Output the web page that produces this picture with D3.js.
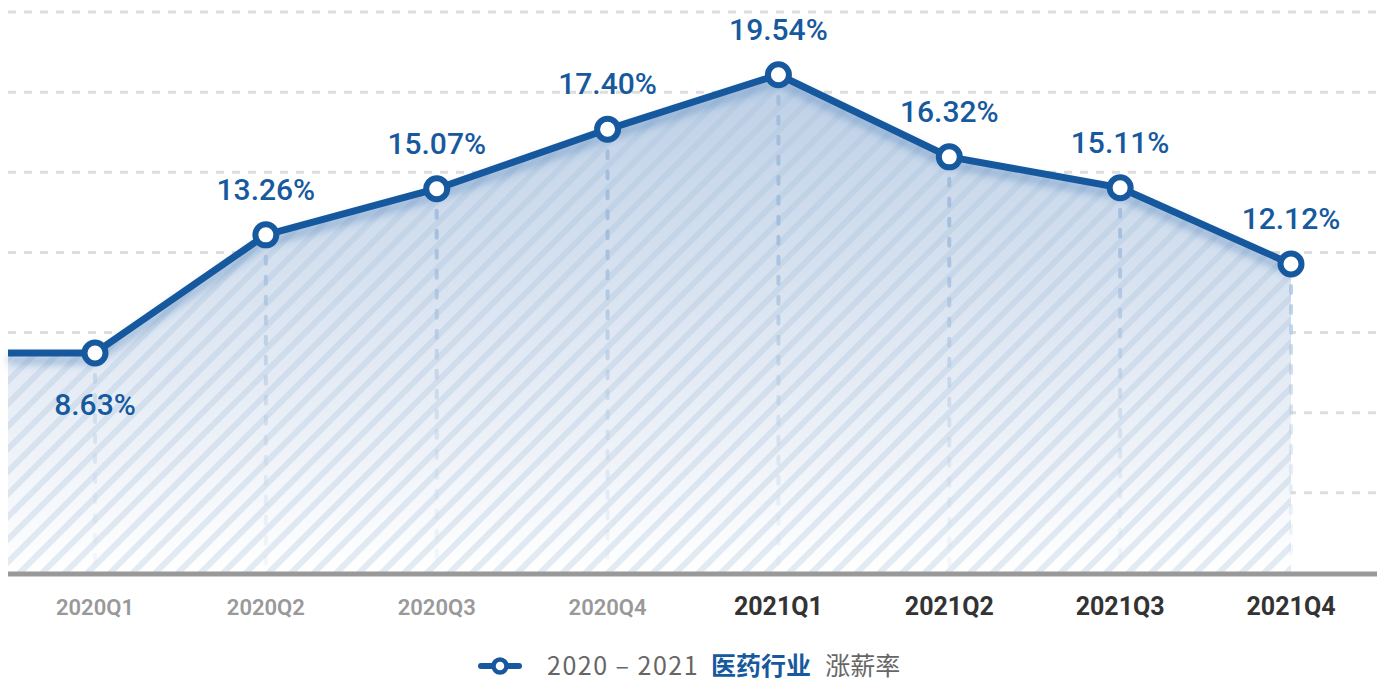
<!DOCTYPE html>
<html>
<head>
<meta charset="utf-8">
<script src="https://cdn.jsdelivr.net/npm/d3@7"></script>
<style>
  html, body { margin: 0; padding: 0; background: #fff; }
  svg { display: block; }
</style>
</head>
<body>
<div id="chart"></div>
<script>
// ── data ──────────────────────────────────────────────
const quarters = ['2020Q1', '2020Q2', '2020Q3', '2020Q4', '2021Q1', '2021Q2', '2021Q3', '2021Q4'];
const raise = [8.63, 13.26, 15.07, 17.40, 19.54, 16.32, 15.11, 12.12];
const yMax = 22;
const gridCount = 7;

const BLUE = '#17599e';
const width = 1377, height = 681;
const plotLeft = 8, baseY = 573;

const svg = d3.select('#chart').append('svg')
  .attr('width', width).attr('height', height)
  .attr('viewBox', `0 0 ${width} ${height}`);

const x = d3.scalePoint().domain(quarters).range([95, 1291]);
const y = d3.scaleLinear().domain([0, yMax]).range([baseY, 12]);

const pts = quarters.map((q, i) => ({ q, v: raise[i], x: x(q), y: y(raise[i]) }));
// flat lead-in from the left edge of the plot
const linePts = [{ x: plotLeft, y: y(raise[0]) }, ...pts];

const defs = svg.append('defs');

const grad = defs.append('linearGradient').attr('id', 'areaGrad')
  .attr('gradientUnits', 'userSpaceOnUse')
  .attr('x1', 0).attr('x2', 0).attr('y1', y(yMax * 0.9)).attr('y2', baseY);
grad.append('stop').attr('offset', '0%').attr('stop-color', '#bccfe6');
grad.append('stop').attr('offset', '55%').attr('stop-color', '#e0e8f3');
grad.append('stop').attr('offset', '100%').attr('stop-color', '#ffffff');

const pat = defs.append('pattern').attr('id', 'stripes')
  .attr('patternUnits', 'userSpaceOnUse')
  .attr('width', 16).attr('height', 16)
  .attr('patternTransform', 'rotate(45)');
pat.append('rect').attr('x', 0).attr('y', 0).attr('width', 6).attr('height', 16)
  .attr('fill', '#a9c1dc').attr('opacity', 0.32);

const shadow = defs.append('filter').attr('id', 'lineShadow')
  .attr('x', '-5%').attr('y', '-20%').attr('width', '110%').attr('height', '160%');
shadow.append('feDropShadow').attr('dx', 0).attr('dy', 7).attr('stdDeviation', 4)
  .attr('flood-color', '#3a73b3').attr('flood-opacity', 0.45);

// ── gridlines ─────────────────────────────────────────
const gridVals = d3.range(1, gridCount + 1).map(i => yMax * i / gridCount);
svg.append('g').selectAll('line').data(gridVals).enter().append('line')
  .attr('x1', plotLeft).attr('x2', width)
  .attr('y1', d => y(d)).attr('y2', d => y(d))
  .attr('stroke', '#dddddd').attr('stroke-width', 3)
  .attr('stroke-dasharray', '8,8');

// ── area ──────────────────────────────────────────────
const area = d3.area().x(d => d.x).y0(baseY).y1(d => d.y);
svg.append('path').datum(linePts).attr('d', area).attr('fill', 'url(#areaGrad)');
svg.append('path').datum(linePts).attr('d', area).attr('fill', 'url(#stripes)');

// drop lines
const dropGrad = defs.append('linearGradient').attr('id', 'dropGrad')
  .attr('gradientUnits', 'userSpaceOnUse')
  .attr('x1', 0).attr('x2', 0).attr('y1', y(yMax * 0.6)).attr('y2', baseY);
dropGrad.append('stop').attr('offset', '0%').attr('stop-color', '#9ebbdc').attr('stop-opacity', 0.85);
dropGrad.append('stop').attr('offset', '100%').attr('stop-color', '#c8d8ea').attr('stop-opacity', 0.15);

svg.append('g').selectAll('line').data(pts).enter().append('line')
  .attr('x1', d => d.x).attr('x2', d => d.x + 0.01)
  .attr('y1', d => d.y + 22).attr('y2', baseY - 8)
  .attr('stroke', 'url(#dropGrad)').attr('stroke-width', 4)
  .attr('stroke-linecap', 'round').attr('stroke-dasharray', '7,13');

// baseline
svg.append('line')
  .attr('x1', plotLeft).attr('x2', width).attr('y1', baseY + 1).attr('y2', baseY + 1)
  .attr('stroke', '#999999').attr('stroke-width', 5);

// ── line + markers ────────────────────────────────────
const line = d3.line().x(d => d.x).y(d => d.y);
svg.append('path').datum(linePts).attr('d', line)
  .attr('fill', 'none').attr('stroke', BLUE).attr('stroke-width', 7)
  .attr('stroke-linejoin', 'round').attr('filter', 'url(#lineShadow)');

svg.append('g').selectAll('circle').data(pts).enter().append('circle')
  .attr('cx', d => d.x).attr('cy', d => d.y).attr('r', 10.5)
  .attr('fill', '#fff').attr('stroke', BLUE).attr('stroke-width', 6);

// value labels
svg.append('g').selectAll('text').data(pts).enter().append('text')
  .attr('x', d => d.x)
  .attr('y', (d, i) => i === 0 ? d.y + 62 : d.y - 35)
  .attr('text-anchor', 'middle')
  .attr('font-family', 'Roboto, sans-serif').attr('font-weight', 500)
  .attr('font-size', 30).attr('fill', BLUE)
  .text(d => d.v.toFixed(2) + '%');

// x labels
svg.append('g').selectAll('text').data(pts).enter().append('text')
  .attr('x', d => d.x).attr('y', 615)
  .attr('text-anchor', 'middle')
  .attr('font-family', 'Roboto, sans-serif')
  .attr('font-weight', d => d.q.startsWith('2021') ? 700 : 600)
  .attr('font-size', d => d.q.startsWith('2021') ? 25 : 22)
  .attr('fill', d => d.q.startsWith('2021') ? '#333333' : '#999999')
  .text(d => d.q);

// ── legend ────────────────────────────────────────────
const lg = svg.append('g').attr('transform', 'translate(500,666)');
lg.append('line').attr('x1', -19).attr('x2', 19).attr('y1', 0).attr('y2', 0)
  .attr('stroke', BLUE).attr('stroke-width', 6).attr('stroke-linecap', 'round');
lg.append('circle').attr('r', 6.5).attr('fill', '#fff').attr('stroke', BLUE).attr('stroke-width', 4.5);

const lt = lg.append('text').attr('x', 47).attr('y', 9)
  .attr('font-family', '"Noto Sans CJK SC", "Noto Sans", sans-serif')
  .attr('font-size', 25).attr('fill', '#666666');
lt.append('tspan').attr('letter-spacing', 1.5).text('2020  –  2021');
lt.append('tspan').attr('dx', 12).attr('fill', BLUE).attr('font-weight', 600).text('医药行业');
lt.append('tspan').attr('dx', 14).text('涨薪率');
</script>
</body>
</html>
